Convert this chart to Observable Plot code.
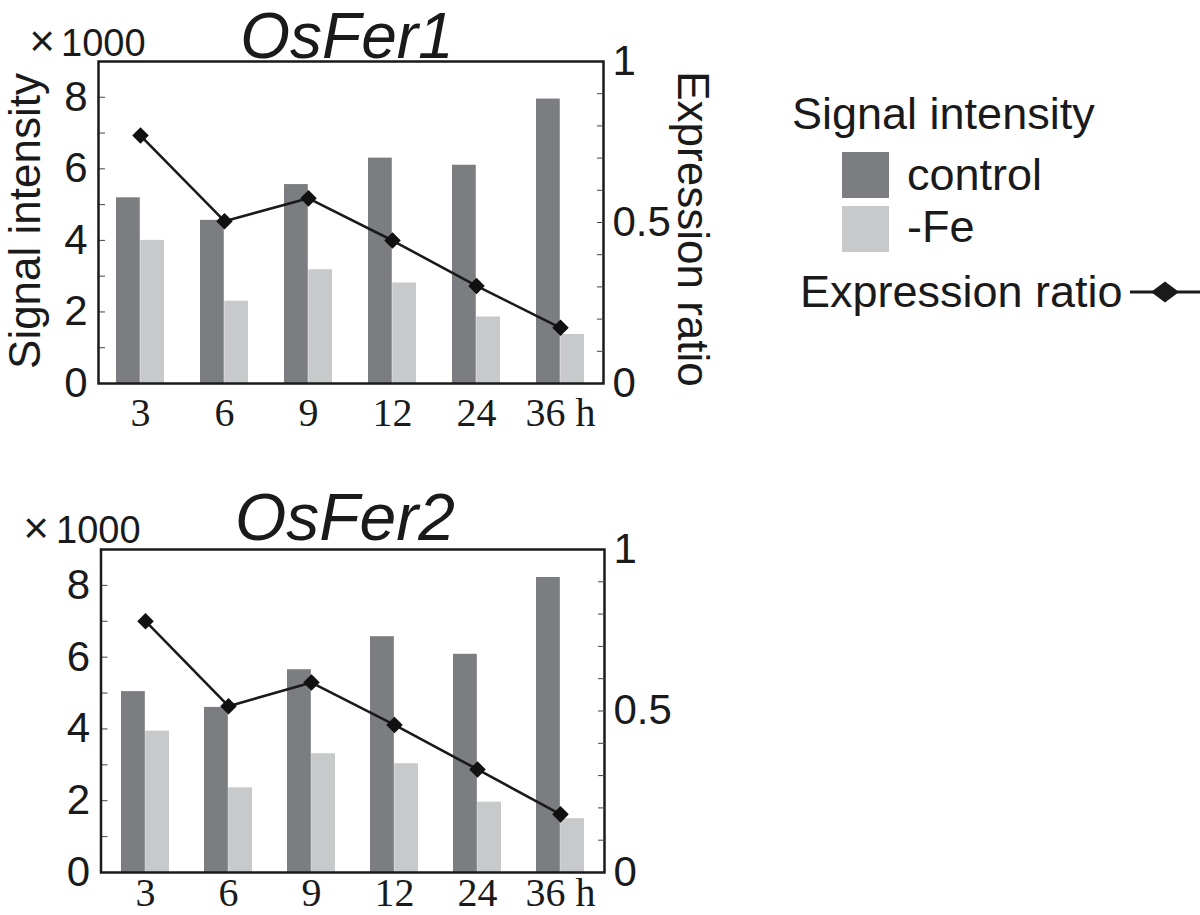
<!DOCTYPE html>
<html><head><meta charset="utf-8">
<script src="https://cdn.jsdelivr.net/npm/d3@7"></script>
<script src="https://cdn.jsdelivr.net/npm/@observablehq/plot@0.6"></script>
<style>
body{margin:0;background:#fff;}
#root{position:relative;width:1200px;height:915px;overflow:hidden;background:#fff;color:#1a1a1a;font-family:"Liberation Sans",Arial,sans-serif;}
#root svg{position:absolute;}
</style></head><body><div id="root"></div>
<script>
// ---- data ----
const times = ["3", "6", "9", "12", "24", "36"];
const timeTickLabels = ["3", "6", "9", "12", "24", "36 h"];
const seriesNames = ["control", "-Fe"];
const seriesColors = ["#7c7d80", "#c8c9cb"];
const fer1Control = [5.19, 4.56, 5.56, 6.30, 6.10, 7.95];
const fer1Fe = [4.00, 2.30, 3.18, 2.81, 1.86, 1.37];
const fer1Ratio = [0.770, 0.504, 0.575, 0.444, 0.303, 0.173];
const fer2Control = [5.04, 4.60, 5.65, 6.57, 6.08, 8.22];
const fer2Fe = [3.94, 2.36, 3.31, 3.03, 1.96, 1.50];
const fer2Ratio = [0.778, 0.515, 0.588, 0.457, 0.319, 0.180];
const signalTicks = [0, 2, 4, 6, 8];
const signalMinorTicks = [1, 2, 3, 4, 5, 6, 7, 8];
const ratioTicks = [0, 0.5, 1];
const ratioTickLabels = ["0", "0.5", "1"];
const ratioMinorTicks = [0.1, 0.2, 0.3, 0.4, 0.5, 0.6, 0.7, 0.8, 0.9];
const titles = ["OsFer1", "OsFer2"];

const root = document.getElementById("root");
const INK = "#1a1a1a";
const SANS = "Liberation Sans, Arial, sans-serif";
const SERIF = "Liberation Serif, Times New Roman, serif";

// ---- decorations (titles, axis titles, legend) ----
const deco = d3.select(root).append("svg").attr("width", 1200).attr("height", 915)
  .style("left", "0px").style("top", "0px").attr("font-family", SANS).attr("fill", INK);

function txt(x, y, s, size, opts = {}) {
  const t = deco.append("text").attr("x", x).attr("y", y).attr("font-size", size).text(s);
  if (opts.anchor) t.attr("text-anchor", opts.anchor);
  if (opts.italic) t.attr("font-style", "italic");
  if (opts.transform) t.attr("transform", opts.transform).attr("x", 0).attr("y", 0);
  return t;
}
txt(347, 58, titles[0], 64, {anchor: "middle", italic: true});
txt(345, 540, titles[1], 66, {anchor: "middle", italic: true});
txt(42, 56, "×", 44, {anchor: "middle"});
txt(61, 56, "1000", 38);
txt(36, 543, "×", 44, {anchor: "middle"});
txt(56, 543, "1000", 38);
txt(0, 0, "Signal intensity", 44, {anchor: "middle", transform: "translate(40,221) rotate(-90)"});
txt(0, 0, "Expression ratio", 44, {anchor: "middle", transform: "translate(678,229) rotate(90)"});
// legend
txt(792, 129, "Signal intensity", 45);
deco.append("rect").attr("x", 842).attr("y", 152).attr("width", 47).attr("height", 46).attr("fill", seriesColors[0]);
deco.append("rect").attr("x", 842).attr("y", 206).attr("width", 47).attr("height", 46).attr("fill", seriesColors[1]);
txt(907, 190, seriesNames[0], 45);
txt(907, 242, seriesNames[1], 45);
txt(800, 307, "Expression ratio", 45);
deco.append("line").attr("x1", 1130).attr("x2", 1200).attr("y1", 292).attr("y2", 292).attr("stroke", INK).attr("stroke-width", 3);
deco.append("path").attr("d", "M1151,292L1165,281.5L1179,292L1165,302.5Z").attr("fill", INK);

// ---- panels ----
function panel({left, top, width, height, mL, mR, mT, mB, xPad, control, fe, ratio}) {
  const rows = times.map((t, i) => ({time: t, control: control[i], fe: fe[i], ratio: ratio[i]}));
  const pi = 0.424, po = 0.212;
  const frameW = width - mL - mR;
  const half = frameW / (times.length - pi + 2 * po) * (1 - pi) / 2;
  const xOpt = {type: "band", domain: times, paddingInner: pi, paddingOuter: po};
  const common = {width, height, marginLeft: mL, marginRight: mR, marginTop: mT, marginBottom: mB};
  const bars = Plot.plot({
    ...common,
    x: xOpt,
    y: {domain: [0, 9]},
    style: {background: "transparent", overflow: "visible", color: INK, fontFamily: SANS},
    marks: [
      Plot.barY(rows, {x: "time", y: "control", fill: seriesColors[0], insetRight: half}),
      Plot.barY(rows, {x: "time", y: "fe", fill: seriesColors[1], insetLeft: half}),
      Plot.axisY(signalMinorTicks, {tickSize: -7, tickFormat: () => "", stroke: "#444", label: null}),
      Plot.axisY(signalTicks, {tickSize: 0, tickPadding: 11, fontSize: 42, fontFamily: SANS, fill: INK, label: null}),
      Plot.axisX({tickSize: 0, tickPadding: xPad, fontSize: 40, fontFamily: SERIF, fill: INK, label: null,
        tickFormat: d => timeTickLabels[times.indexOf(d)]}),
      Plot.frame({stroke: INK, strokeWidth: 2.5})
    ]
  });
  const lines = Plot.plot({
    ...common,
    x: {...xOpt, axis: null},
    y: {domain: [0, 1]},
    style: {background: "transparent", overflow: "visible", color: INK, fontFamily: SANS},
    marks: [
      Plot.axisY(ratioMinorTicks, {anchor: "right", tickSize: -7, tickFormat: () => "", stroke: "#444", label: null}),
      Plot.axisY(ratioTicks, {anchor: "right", tickSize: 0, tickPadding: 9, fontSize: 42, fontFamily: SANS, fill: INK, label: null,
        tickFormat: d => ratioTickLabels[ratioTicks.indexOf(d)]}),
      Plot.lineY(rows, {x: "time", y: "ratio", stroke: INK, strokeWidth: 2.6}),
      Plot.dot(rows, {x: "time", y: "ratio", symbol: "diamond2", r: 6.5, fill: "#111", stroke: "#111", strokeWidth: 1.5})
    ]
  });
  for (const svg of [bars, lines]) {
    svg.style.left = left + "px";
    svg.style.top = top + "px";
    svg.style.maxWidth = "none";
    root.appendChild(svg);
  }
}

panel({left: 0, top: 0, width: 720, height: 440, mL: 98, mR: 117, mT: 61, mB: 57, xPad: 14,
  control: fer1Control, fe: fer1Fe, ratio: fer1Ratio});
panel({left: 0, top: 488, width: 720, height: 427, mL: 100.5, mR: 116, mT: 61, mB: 43, xPad: 5,
  control: fer2Control, fe: fer2Fe, ratio: fer2Ratio});
</script>
</body></html>
